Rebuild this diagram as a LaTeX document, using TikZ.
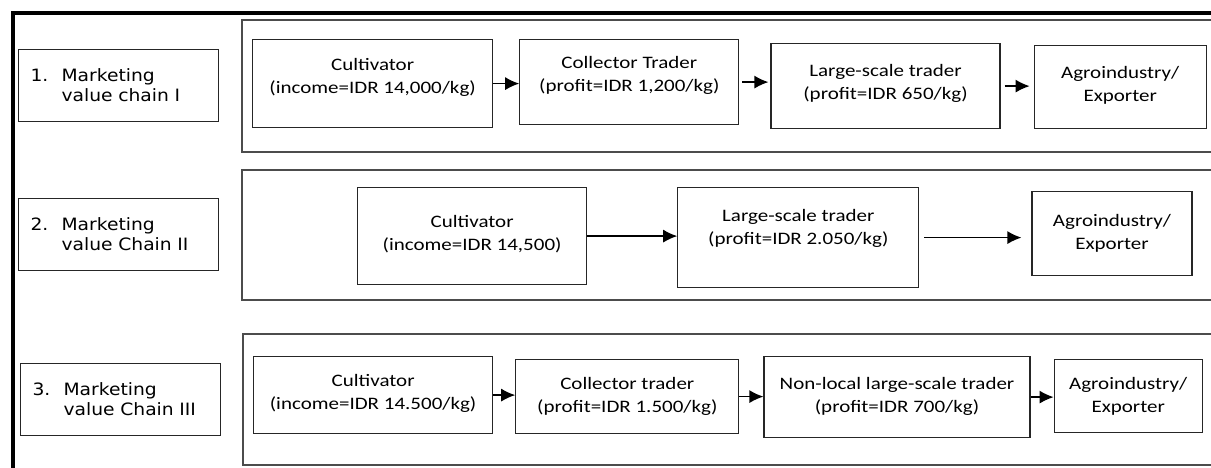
\documentclass[tikz,border=0pt]{standalone}
\usepackage{fontspec}
\newfontfamily\stagefont{Carlito}[FakeStretch=1.2]
\newfontfamily\chainfont{DejaVu Sans}[FakeStretch=1.1]
\usetikzlibrary{positioning,arrows.meta}
\tikzset{
stage/.style={
  rectangle, draw=black!85, line width=1.2pt,
  align=center, inner sep=0pt,
  font=\stagefont\fontsize{17.5}{23}\selectfont
  },
chainlabel/.style={
  rectangle, draw=black!85, line width=1.2pt,
  align=left, text width=176pt, inner xsep=12pt, inner ysep=0pt,
  minimum height=72pt, anchor=north west,
  font=\chainfont\fontsize{17}{20}\selectfont
  },
chainframe/.style={draw=black!70, line width=1.5pt},
flow/.style={-{Latex[length=14pt,width=13pt]}, line width=1.3pt}
}
% numbered list item on two lines
\newcommand{\chainitem}[3]{\makebox[31pt][l]{#1}#2\\\hspace*{31pt}#3}

\begin{document}
\begin{tikzpicture}[x=1pt,y=-1pt]
\useasboundingbox (0,0) rectangle (1211,468);

\draw[line width=3.5pt] (13,470) -- (13,13) -- (1213,13);

% chain I

\node[chainlabel] (lab1) at (18,49) {\chainitem{1.}{Marketing}{value chain I}};
\draw[chainframe] (242,20) rectangle (1216,152);

\node[stage, minimum width=240pt, minimum height=88pt, anchor=north west]
  (cult1) at (252,39) {Cultivator\\(income=IDR 14,000/kg)\\[-7pt]};
\node[stage, minimum width=219pt, minimum height=85pt, right=26pt of cult1, yshift=1.5pt]
  (coll1) {Collector Trader\\(profit=IDR 1,200/kg)\\[-6pt]};
\node[stage, minimum width=229pt, minimum height=85pt, right=31pt of coll1, yshift=-4pt]
  (large1) {Large-scale trader\\(profit=IDR 650/kg)\\[-15pt]};
\node[stage, minimum width=172pt, minimum height=83pt, right=33pt of large1, yshift=-1pt]
  (agro1) {Agroindustry/\\Exporter\\[-17pt]};

\draw[flow] (cult1.east) -- (cult1.east -| coll1.west);
\draw[flow, shorten <=3pt, shorten >=2pt] (coll1.east) -- (coll1.east -| large1.west);
\draw[flow, shorten <=4pt, shorten >=4pt] (large1.east) -- (large1.east -| agro1.west);

% chain II

\node[chainlabel] (lab2) at (18,198) {\chainitem{2.}{Marketing}{value Chain II}};
\draw[chainframe] (242,170) rectangle (1216,300);

\node[stage, minimum width=229pt, minimum height=97pt, anchor=north west]
  (cult2) at (357,187) {Cultivator\\(income=IDR 14,500)\\[-16pt]};
\node[stage, minimum width=241pt, minimum height=100pt, right=90pt of cult2, yshift=-1.5pt]
  (large2) {Large-scale trader\\(profit=IDR 2.050/kg)\\[-2pt]};
\node[stage, minimum width=160pt, minimum height=84pt, right=112pt of large2, yshift=4pt]
  (agro2) {Agroindustry/\\Exporter\\[-19pt]};

\draw[flow] (cult2.east) -- (cult2.east -| large2.west);
\draw[flow, shorten <=5pt, shorten >=10pt] (large2.east) -- (large2.east -| agro2.west);

% chain III

\node[chainlabel] (lab3) at (20,363) {\chainitem{3.}{Marketing}{value Chain III}};
\draw[chainframe] (243,334) rectangle (1216,465);

\node[stage, minimum width=239pt, minimum height=77pt, anchor=north west]
  (cult3) at (253,356) {Cultivator\\(income=IDR 14.500/kg)\\[-16pt]};
\node[stage, minimum width=223pt, minimum height=74pt, right=22pt of cult3, yshift=-1.5pt]
  (coll3) {Collector trader\\(profit=IDR 1.500/kg)\\[-19pt]};
\node[stage, minimum width=266pt, minimum height=81pt, right=24pt of coll3, yshift=-0.5pt]
  (nonloc3) {Non-local large-scale trader\\(profit=IDR 700/kg)\\[-18pt]};
\node[stage, minimum width=148pt, minimum height=73pt, right=23pt of nonloc3, yshift=1pt]
  (agro3) {Agroindustry/\\Exporter};

\draw[flow] (cult3.east) -- (cult3.east -| coll3.west);
\draw[flow] (coll3.east) -- (coll3.east -| nonloc3.west);
\draw[flow] (nonloc3.east) -- (nonloc3.east -| agro3.west);

\end{tikzpicture}
\end{document}
